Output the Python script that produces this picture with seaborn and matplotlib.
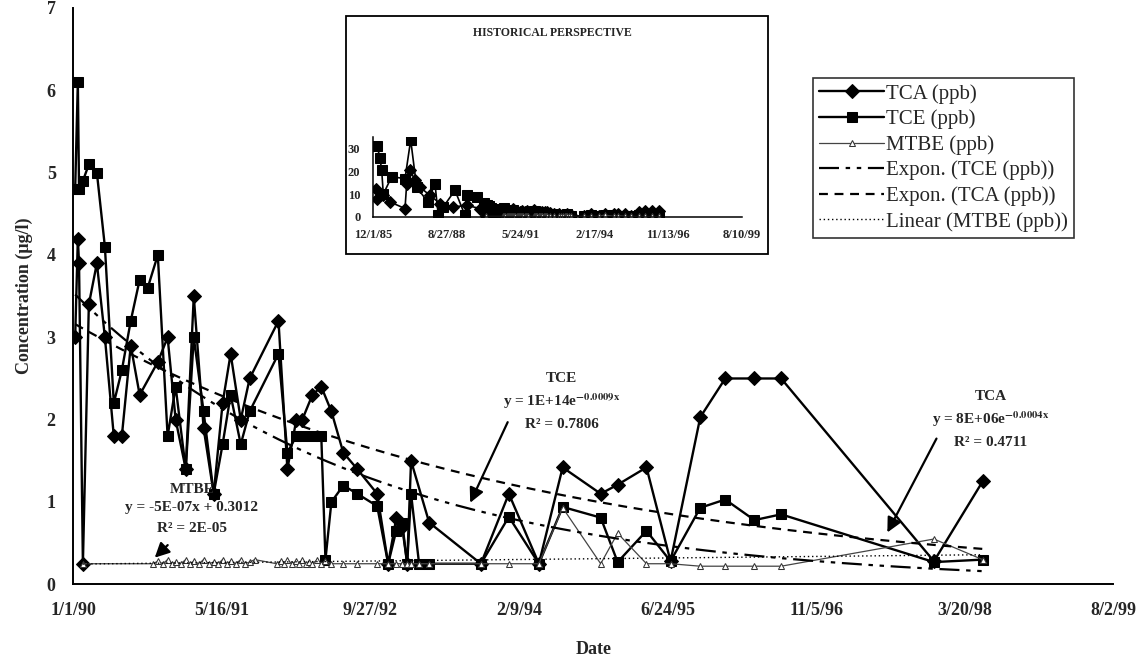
import numpy as np
import pandas as pd
import seaborn as sns
import matplotlib.pyplot as plt
import matplotlib.dates as mdates
from matplotlib.patches import Rectangle

# sampling dates shared by TCA and TCE, 1990-1998
dates = ["1990-01-08", "1990-01-17", "1990-01-21", "1990-02-03", "1990-02-23", "1990-03-22",
         "1990-04-18", "1990-05-18", "1990-06-14", "1990-07-14", "1990-08-13", "1990-09-09",
         "1990-10-13", "1990-11-15", "1990-12-12", "1991-01-15", "1991-02-11", "1991-03-16",
         "1991-04-19", "1991-05-19", "1991-06-15", "1991-07-19", "1991-08-18", "1991-11-23",
         "1991-12-23", "1992-01-22", "1992-02-11", "1992-03-16", "1992-04-15", "1992-04-29",
         "1992-05-19", "1992-06-28", "1992-08-14", "1992-10-20", "1992-11-26", "1992-12-23",
         "1993-01-12", "1993-01-29", "1993-02-11", "1993-03-10", "1993-04-13", "1993-10-04",
         "1994-01-06", "1994-04-17", "1994-07-06", "1994-11-11", "1995-01-07", "1995-04-14",
         "1995-07-04", "1995-10-12", "1996-01-04", "1996-04-11", "1996-07-10", "1997-12-06",
         "1998-05-19"]
tca = [3.0, 4.2, 3.9, 0.25, 3.4, 3.9, 3.0, 1.8, 1.8, 2.9, 2.3, np.nan,
       2.7, 3.0, 2.0, 1.4, 3.5, 1.9, 1.1, 2.2, 2.8, 2.0, 2.5, 3.2,
       1.4, 2.0, 2.0, 2.3, 2.4, np.nan, 2.1, 1.6, 1.4, 1.1, 0.25, 0.8,
       0.7, 0.25, 1.5, np.nan, 0.75, 0.25, 1.1, 0.25, 1.42, 1.1, 1.21, 1.42,
       0.28, 2.03, 2.5, 2.5, 2.5, 0.28, 1.25]
tce = [4.8, 6.1, 4.8, 4.9, 5.1, 5.0, 4.1, 2.2, 2.6, 3.2, 3.7, 3.6,
       4.0, 1.8, 2.4, 1.4, 3.0, 2.1, 1.1, 1.7, 2.3, 1.7, 2.1, 2.8,
       1.6, 1.8, 1.8, 1.8, 1.8, 0.3, 1.0, 1.2, 1.1, 0.95, 0.25, 0.65,
       0.75, 0.25, 1.1, 0.25, 0.25, 0.25, 0.82, 0.25, 0.94, 0.81, 0.27, 0.65,
       0.28, 0.93, 1.03, 0.78, 0.85, 0.27, 0.3]

mtbe_dates = ["1990-02-03", "1990-09-26", "1990-10-13", "1990-10-30", "1990-11-15", "1990-11-29",
              "1990-12-12", "1990-12-29", "1991-01-15", "1991-01-28", "1991-02-11", "1991-02-28",
              "1991-03-16", "1991-04-02", "1991-04-19", "1991-05-03", "1991-05-19", "1991-06-02",
              "1991-06-15", "1991-07-02", "1991-07-19", "1991-08-01", "1991-08-18", "1991-09-04",
              "1991-11-17", "1991-11-30", "1991-12-13", "1991-12-23", "1992-01-06", "1992-01-22",
              "1992-02-01", "1992-02-11", "1992-02-25", "1992-03-06", "1992-03-16", "1992-04-02",
              "1992-04-15", "1992-04-29", "1992-05-19", "1992-06-28", "1992-08-14", "1992-10-20",
              "1992-11-26", "1992-12-23", "1993-01-12", "1993-01-29", "1993-02-11", "1993-03-10",
              "1993-04-13", "1993-10-04", "1994-01-06", "1994-04-17", "1994-07-06", "1994-11-11",
              "1995-01-07", "1995-04-14", "1995-07-04", "1995-10-12", "1996-01-04", "1996-04-11",
              "1996-07-10", "1997-12-06", "1998-05-19"]
mtbe = [0.25, 0.25, 0.28, 0.25, 0.3, 0.25, 0.27, 0.25, 0.3, 0.25, 0.28, 0.25,
        0.3, 0.25, 0.27, 0.25, 0.3, 0.25, 0.28, 0.25, 0.3, 0.25, 0.27, 0.3,
        0.25, 0.28, 0.25, 0.3, 0.25, 0.28, 0.25, 0.3, 0.25, 0.27, 0.25, 0.3,
        0.25, 0.28, 0.25, 0.25, 0.25, 0.25, 0.25, 0.25, 0.25, 0.25, 0.25, 0.25,
        0.25, 0.25, 0.25, 0.25, 0.93, 0.25, 0.62, 0.25, 0.25, 0.22, 0.22, 0.22,
        0.22, 0.55, 0.3]

# exponential trendlines as drawn in the chart: value at first and last sample date
tce_trend = [3.52, 0.16]
tca_trend = [3.16, 0.43]

# older record shown only in the inset
hist_tca_dates = ["1986-01-11", "1986-01-28", "1986-04-18", "1986-07-19", "1987-02-08", "1987-03-03",
                  "1987-04-19", "1987-06-23", "1987-08-30", "1988-01-11", "1988-05-27", "1988-11-23",
                  "1989-05-24", "1989-11-20"]
hist_tca = [12.4, 8.0, 9.5, 6.6, 3.7, 14.6, 20.5, 16.0, 13.0, 9.5, 5.9, 4.4, 5.1, 3.7]
hist_tce_dates = ["1986-01-28", "1986-03-06", "1986-03-29", "1986-04-20", "1986-08-11", "1987-02-08",
                  "1987-04-26", "1987-07-16", "1987-12-15", "1988-03-20", "1988-05-04", "1988-07-11",
                  "1988-12-16", "1989-05-01", "1989-05-24", "1989-10-06"]
hist_tce = [31.0, 25.6, 20.5, 10.0, 17.6, 16.8, 33.7, 13.0, 6.6, 14.6, 0.7, 4.4, 11.7, 0.7, 9.5, 8.8]
inset_end = "1996-09-30"

xtick_labels = ["1/1/90", "5/16/91", "9/27/92", "2/9/94", "6/24/95", "11/5/96", "3/20/98", "8/2/99"]
inset_xtick_labels = ["12/1/85", "8/27/88", "5/24/91", "2/17/94", "11/13/96", "8/10/99"]

sns.set_style("white")
plt.rcParams["font.family"] = ["Liberation Serif", "DejaVu Serif"]
plt.rcParams["mathtext.fontset"] = "stix"

df = pd.DataFrame({"date": pd.to_datetime(dates), "TCA": tca, "TCE": tce})
dm = pd.DataFrame({"date": pd.to_datetime(mtbe_dates), "MTBE": mtbe})

fig = plt.figure(figsize=(11.42, 6.64), dpi=100)
ax = fig.add_axes([0.064, 0.12, 0.911, 0.868])

sns.lineplot(data=df.dropna(subset=["TCA"]), x="date", y="TCA", ax=ax, color="black", lw=1.7,
             marker="D", markersize=7, mec="black", label="TCA (ppb)", estimator=None)
sns.lineplot(data=df.dropna(subset=["TCE"]), x="date", y="TCE", ax=ax, color="black", lw=1.7,
             marker="s", markersize=6.5, mec="black", label="TCE (ppb)", estimator=None)
sns.lineplot(data=dm, x="date", y="MTBE", ax=ax, color="#444444", lw=0.9,
             marker="^", markersize=5, mfc="white", mec="#333333", label="MTBE (ppb)", estimator=None)

# trendlines
xn = mdates.date2num(df["date"])
x0, x1 = xn.min(), xn.max()
grid = np.linspace(x0, x1, 300)


def expon(ends):
    k = np.log(ends[1] / ends[0]) / (x1 - x0)
    return ends[0] * np.exp(k * (grid - x0))


ax.plot(grid, expon(tce_trend), color="black", lw=1.6,
        ls=(0, (9, 3, 2, 3, 2, 3)), label="Expon. (TCE (ppb))")
ax.plot(grid, expon(tca_trend), color="black", lw=1.6,
        ls=(0, (4, 3)), label="Expon. (TCA (ppb))")
xm = mdates.date2num(dm["date"])
k, b = np.polyfit(xm, dm["MTBE"], 1)
gm = np.linspace(xm.min(), xm.max(), 50)
ax.plot(gm, b + k * gm, color="black", lw=1.0, ls=(0, (1, 2)), label="Linear (MTBE (ppb))")

xt = pd.to_datetime(xtick_labels, format="%m/%d/%y")
ax.set_xlim(xt[0], xt[-1])
ax.set_xticks(xt)
ax.set_xticklabels(xtick_labels, fontsize=13, fontweight="bold")
ax.set_ylim(0, 7)
ax.set_yticks(range(8))
ax.set_yticklabels([str(v) for v in range(8)], fontsize=13, fontweight="bold")
ax.tick_params(direction="inout", length=9, width=1.2, pad=8)
ax.set_xlabel("Date", fontsize=13, fontweight="bold", labelpad=16)
ax.set_ylabel("Concentration (\u03bcg/l)", fontsize=13, fontweight="bold", labelpad=10)
for s in ["top", "right"]:
    ax.spines[s].set_visible(False)
for s in ["left", "bottom"]:
    ax.spines[s].set_linewidth(1.4)
    ax.spines[s].set_color("black")


# trendline annotations
def d(s):
    return mdates.date2num(pd.Timestamp(s))


txt = dict(ha="center", va="center", fontsize=11, fontweight="bold")
arr = dict(arrowstyle="-|>", color="black", lw=1.6, mutation_scale=22)
ax.text(d("1994-07-03"), 2.5, "TCE", **txt)
ax.text(d("1994-07-03"), 2.22, "y = 1E+14e$^{\\mathbf{-0.0009x}}$", **txt)
ax.text(d("1994-07-03"), 1.94, "R\u00b2 = 0.7806", **txt)
ax.annotate("", xy=(d("1993-08-25"), 0.96), xytext=(d("1994-01-06"), 2.0), arrowprops=arr)
ax.text(d("1998-06-15"), 2.28, "TCA", **txt)
ax.text(d("1998-06-15"), 2.0, "y = 8E+06e$^{\\mathbf{-0.0004x}}$", **txt)
ax.text(d("1998-06-15"), 1.72, "R\u00b2 = 0.4711", **txt)
ax.annotate("", xy=(d("1997-06-28"), 0.6), xytext=(d("1997-12-19"), 1.8), arrowprops=arr)
ax.text(d("1991-02-04"), 1.15, "MTBE", **txt)
ax.text(d("1991-02-04"), 0.93, "y = -5E-07x + 0.3012", **txt)
ax.text(d("1991-02-04"), 0.68, "R\u00b2 = 2E-05", **txt)
ax.annotate("", xy=(d("1990-09-26"), 0.3), xytext=(d("1990-11-22"), 0.5), arrowprops=arr)

# legend
h, l = ax.get_legend_handles_labels()
ax.get_legend().remove()
order = ["TCA (ppb)", "TCE (ppb)", "MTBE (ppb)", "Expon. (TCE (ppb))",
         "Expon. (TCA (ppb))", "Linear (MTBE (ppb))"]
hl = dict(zip(l, h))
leg = fig.legend([hl[o] for o in order], order, loc="upper left", bbox_to_anchor=(0.712, 0.883),
                 fontsize=15, frameon=True, fancybox=False, edgecolor="black",
                 handlelength=3.1, handletextpad=0.1, labelspacing=0.28, borderpad=0.3,
                 borderaxespad=0)
leg.get_frame().set_linewidth(1.2)

# historical inset
fig.patches.append(Rectangle((0.303, 0.6175), 0.3695, 0.3585, transform=fig.transFigure,
                             fill=False, edgecolor="black", lw=1.3))
fig.text(0.484, 0.951, "HISTORICAL PERSPECTIVE", ha="center", va="center",
         fontsize=8.5, fontweight="bold")
ia = fig.add_axes([0.3266, 0.6732, 0.3231, 0.1205])
it_tca = pd.concat([pd.DataFrame({"date": pd.to_datetime(hist_tca_dates), "v": hist_tca}),
                    df.dropna(subset=["TCA"])[["date", "TCA"]].rename(columns={"TCA": "v"})])
it_tce = pd.concat([pd.DataFrame({"date": pd.to_datetime(hist_tce_dates), "v": hist_tce}),
                    df.dropna(subset=["TCE"])[["date", "TCE"]].rename(columns={"TCE": "v"})])
it_tca = it_tca[it_tca["date"] <= inset_end]
it_tce = it_tce[it_tce["date"] <= inset_end]
dmi = dm[dm["date"] <= inset_end]
sns.lineplot(data=it_tca, x="date", y="v", ax=ia, color="black", lw=1.2, marker="D",
             markersize=6.5, mec="black", estimator=None)
sns.lineplot(data=it_tce, x="date", y="v", ax=ia, color="black", lw=1.2, marker="s",
             markersize=7, mec="black", estimator=None)
sns.lineplot(data=dmi, x="date", y="MTBE", ax=ia, color="#444444", lw=0.8, marker="^",
             markersize=4, mfc="white", mec="#333333", estimator=None)
ixt = pd.to_datetime(inset_xtick_labels, format="%m/%d/%y")
ia.set_xlim(ixt[0], ixt[-1])
ia.set_xticks(ixt)
ia.set_xticklabels(inset_xtick_labels, fontsize=9, fontweight="bold")
ia.set_ylim(0, 35)
ia.set_yticks([0, 10, 20, 30])
ia.set_yticklabels(["0", "10", "20", "30"], fontsize=9, fontweight="bold")
ia.tick_params(direction="inout", length=6, width=1, pad=6)
ia.set_xlabel("")
ia.set_ylabel("")
ia.patch.set_alpha(0)
for s in ["top", "right"]:
    ia.spines[s].set_visible(False)
for s in ["left", "bottom"]:
    ia.spines[s].set_color("black")
    ia.spines[s].set_linewidth(1.1)

fig.savefig("out.png", dpi=100)
